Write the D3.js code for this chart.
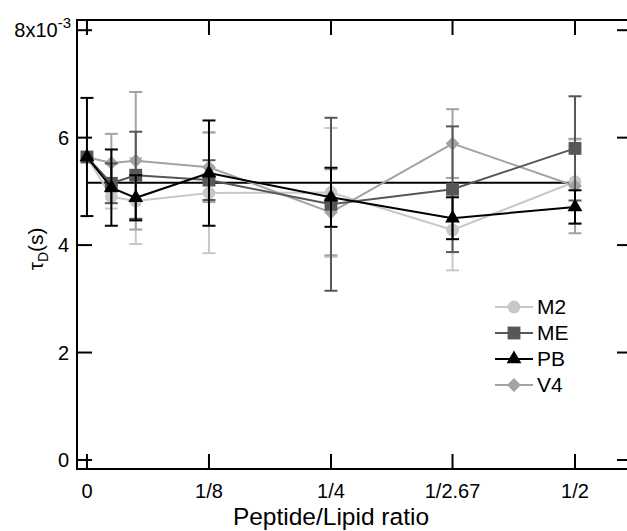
<!DOCTYPE html>
<html>
<head>
<meta charset="utf-8">
<script src="https://cdn.jsdelivr.net/npm/d3@7"></script>
<style>
  body { margin: 0; background: #fff; }
  svg { display: block; font-family: "Liberation Sans", Arial, sans-serif; }
</style>
</head>
<body>
<svg id="chart" width="627" height="531"></svg>
<script>
// peptide/lipid ratios of each measurement
const ratios = [0, 1/40, 1/20, 1/8, 1/4, 1/2.67, 1/2];
const xTickVals = [0, 1/8, 1/4, 1/2.67, 1/2];
const xTickLabels = ['0', '1/8', '1/4', '1/2.67', '1/2'];
const yTickVals = [0, 2, 4, 6, 8];   // x10^-3 s

// tau_D values in units of 1e-3 s
const m2 = [5.64, 4.90, 4.82, 4.97, 4.98, 4.28, 5.18];
const m2Err = [0, 0.22, 0.80, 1.12, 1.20, 0.75, 0.78];
const me = [5.64, 5.15, 5.30, 5.21, 4.76, 5.04, 5.80];
const meErr = [0, 0.37, 0.81, 0.37, 1.61, 1.17, 0.97];
const pb = [5.64, 5.07, 4.88, 5.34, 4.89, 4.50, 4.71];
const pbErr = [1.10, 0.71, 0.42, 0.98, 0.55, 0.39, 0.31];
const v4 = [5.64, 5.53, 5.57, 5.45, 4.61, 5.89, 5.10];
const v4Err = [0, 0.54, 1.28, 0.65, 0.80, 0.64, 0.88];
const meanTau = 5.16;

const seriesNames = ['M2', 'ME', 'PB', 'V4'];

const series = [
  { name: 'M2', vals: m2, err: m2Err, color: '#c8c8c8', symbol: d3.symbolCircle, size: 130, rot: 0 },
  { name: 'V4', vals: v4, err: v4Err, color: '#a3a3a3', symbol: d3.symbolSquare, size: 95, rot: 45 },
  { name: 'ME', vals: me, err: meErr, color: '#575757', symbol: d3.symbolSquare, size: 165, rot: 0 },
  { name: 'PB', vals: pb, err: pbErr, color: '#000000', symbol: d3.symbolTriangle, size: 95, rot: 0 }
];

const svg = d3.select('#chart');
const frame = { left: 77, right: 632, top: 20, bottom: 469 };

const x = d3.scaleLinear([-0.0102, 0.5584], [frame.left, frame.right]);
const y = d3.scaleLinear([-0.168, 8.19], [frame.bottom, frame.top]);

const tickLen = 15;
const font = 20;

// frame
const g = svg.append('g');
g.append('rect')
  .attr('x', frame.left).attr('y', frame.top)
  .attr('width', frame.right - frame.left).attr('height', frame.bottom - frame.top)
  .attr('fill', 'none').attr('stroke', '#000').attr('stroke-width', 2);

// ticks (inside, mirrored)
g.append('g').selectAll('line')
  .data(xTickVals)
  .join('line')
    .attr('x1', d => x(d)).attr('x2', d => x(d))
    .attr('y1', frame.bottom).attr('y2', frame.bottom - tickLen)
    .attr('stroke', '#000').attr('stroke-width', 2);
g.append('g').selectAll('line')
  .data(xTickVals)
  .join('line')
    .attr('x1', d => x(d)).attr('x2', d => x(d))
    .attr('y1', frame.top).attr('y2', frame.top + tickLen)
    .attr('stroke', '#000').attr('stroke-width', 2);
g.append('g').selectAll('line')
  .data(yTickVals)
  .join('line')
    .attr('x1', frame.left).attr('x2', frame.left + tickLen)
    .attr('y1', d => y(d)).attr('y2', d => y(d))
    .attr('stroke', '#000').attr('stroke-width', 2);
g.append('g').selectAll('line')
  .data(yTickVals)
  .join('line')
    .attr('x1', frame.right).attr('x2', frame.right - tickLen)
    .attr('y1', d => y(d)).attr('y2', d => y(d))
    .attr('stroke', '#000').attr('stroke-width', 2);

// tick labels
g.append('g').selectAll('text')
  .data(xTickVals)
  .join('text')
    .attr('x', d => x(d))
    .attr('y', frame.bottom + 29)
    .attr('text-anchor', 'middle')
    .attr('font-size', font)
    .text((d, i) => xTickLabels[i]);

const yLab = g.append('g').selectAll('text')
  .data(yTickVals)
  .join('text')
    .attr('x', 69)
    .attr('y', d => y(d))
    .attr('dy', '0.35em')
    .attr('text-anchor', 'end')
    .attr('font-size', font);
yLab.filter(d => d !== 8).text(d => d);
const topLab = yLab.filter(d => d === 8).attr('x', 71);
topLab.append('tspan').text('8x10');
topLab.append('tspan').attr('font-size', 15).attr('dy', -9).text('-3');

// axis titles
svg.append('text')
  .attr('x', x(0.25)).attr('y', 525)
  .attr('text-anchor', 'middle')
  .attr('font-size', 24.5)
  .text('Peptide/Lipid ratio');

const yt = svg.append('text')
  .attr('transform', `translate(43, ${y(3.93)}) rotate(-90)`)
  .attr('text-anchor', 'middle')
  .attr('font-size', 21);
yt.append('tspan').text('τ');
yt.append('tspan').attr('font-size', 14).attr('dy', 5).text('D');
yt.append('tspan').attr('dy', -5).text('(s)');

// mean line
svg.append('line')
  .attr('x1', x(0)).attr('x2', x(0.5))
  .attr('y1', y(meanTau)).attr('y2', y(meanTau))
  .attr('stroke', '#000').attr('stroke-width', 2);

// series
const line = d3.line().x(d => x(d.r)).y(d => y(d.v));
const cap = 6.5;

series.forEach(s => {
  const pts = ratios.map((r, i) => ({ r, v: s.vals[i], e: s.err[i] }));
  const sg = svg.append('g');

  sg.append('path')
    .datum(pts)
    .attr('d', line)
    .attr('fill', 'none')
    .attr('stroke', s.color)
    .attr('stroke-width', 2);

  const eb = sg.append('g').selectAll('g')
    .data(pts.filter(d => d.e > 0))
    .join('g')
      .attr('stroke', s.color)
      .attr('stroke-width', 2);
  eb.append('line')
    .attr('x1', d => x(d.r)).attr('x2', d => x(d.r))
    .attr('y1', d => y(d.v - d.e)).attr('y2', d => y(d.v + d.e));
  eb.append('line')
    .attr('x1', d => x(d.r) - cap).attr('x2', d => x(d.r) + cap)
    .attr('y1', d => y(d.v + d.e)).attr('y2', d => y(d.v + d.e));
  eb.append('line')
    .attr('x1', d => x(d.r) - cap).attr('x2', d => x(d.r) + cap)
    .attr('y1', d => y(d.v - d.e)).attr('y2', d => y(d.v - d.e));

  sg.append('g').selectAll('path')
    .data(pts)
    .join('path')
      .attr('d', d3.symbol(s.symbol, s.size))
      .attr('transform', d => `translate(${x(d.r)},${y(d.v)}) rotate(${s.rot})`)
      .attr('fill', s.color);
});

// legend
const legend = svg.append('g').attr('transform', 'translate(495, 307)');
const byName = Object.fromEntries(series.map(s => [s.name, s]));
const rows = legend.selectAll('g')
  .data(seriesNames)
  .join('g')
    .attr('transform', (d, i) => `translate(0, ${i * 26})`);
rows.append('line')
  .attr('x1', 0).attr('x2', 38)
  .attr('stroke', d => byName[d].color)
  .attr('stroke-width', 2);
rows.append('path')
  .attr('d', d => d3.symbol(byName[d].symbol, byName[d].size)())
  .attr('transform', d => `translate(19,0) rotate(${byName[d].rot})`)
  .attr('fill', d => byName[d].color);
rows.append('text')
  .attr('x', 42)
  .attr('dy', '0.35em')
  .attr('font-size', 21)
  .text(d => d);
</script>
</body>
</html>
